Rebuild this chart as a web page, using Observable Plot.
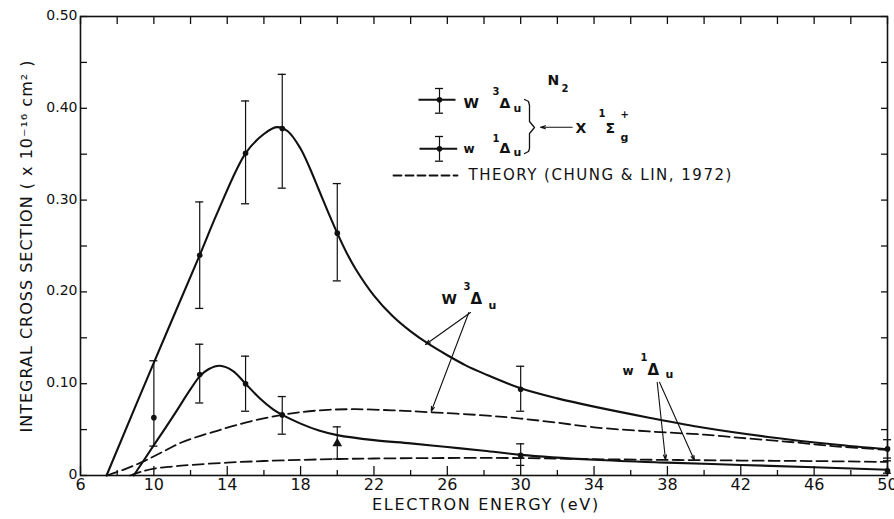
<!DOCTYPE html>
<html><head><meta charset="utf-8">
<script src="https://cdn.jsdelivr.net/npm/d3@7"></script>
<script src="https://cdn.jsdelivr.net/npm/@observablehq/plot@0.6"></script>
<style>
html,body{margin:0;padding:0;background:#fff;}
#chart svg{display:block;}
</style></head><body><div id="chart"></div>
<script>
// ---------- measured data: W 3Δu (triplet) ----------
const energyTriplet = [10, 12.5, 15, 17, 20, 30, 50];
const sigmaTriplet  = [0.063, 0.240, 0.351, 0.378, 0.264, 0.094, 0.029];
const loTriplet     = [0.032, 0.182, 0.296, 0.313, 0.212, 0.070, 0.019];
const hiTriplet     = [0.125, 0.298, 0.408, 0.437, 0.318, 0.119, 0.039];

// ---------- measured data: w 1Δu (singlet) ----------
const energySinglet = [12.5, 15, 17, 20, 30, 50];
const sigmaSinglet  = [0.110, 0.100, 0.066, 0.035, 0.022, 0.005];
const loSinglet     = [0.079, 0.070, 0.045, 0.018, 0.011, 0.0025];
const hiSinglet     = [0.143, 0.130, 0.086, 0.053, 0.0345, 0.016];
const triangleEnergy = 20; // point drawn as a triangle

// ---------- hand-drawn fitted curves ----------
const fitTripletE = [7.42, 10, 12.5, 13.5, 15, 16, 16.7, 17.3, 18, 18.5, 19, 19.5, 20, 20.5, 21, 22, 23, 24, 25, 26, 27, 28, 30, 32, 34, 37, 40, 43.5, 47, 50];
const fitTripletS = [0, 0.123, 0.240, 0.288, 0.351, 0.372, 0.3795, 0.375, 0.356, 0.335, 0.311, 0.287, 0.264, 0.243, 0.225, 0.196, 0.174, 0.157, 0.143, 0.131, 0.120, 0.111, 0.095, 0.084, 0.075, 0.063, 0.052, 0.042, 0.034, 0.0285];
const fitSingletE = [8.9, 10, 11, 12, 12.5, 13, 13.6, 14.3, 15, 15.8, 16.5, 17, 18, 19, 20, 22, 24, 26, 28, 30, 34, 38, 42, 46, 50];
const fitSingletS = [0, 0.033, 0.063, 0.094, 0.108, 0.116, 0.1195, 0.114, 0.100, 0.0835, 0.072, 0.066, 0.0565, 0.049, 0.044, 0.0385, 0.035, 0.031, 0.027, 0.0225, 0.0172, 0.014, 0.0115, 0.009, 0.0062];

// ---------- theory (Chung & Lin, 1972) ----------
const theoryTripletE = [7.45, 8.5, 9.5, 10.5, 11.5, 12.5, 13.5, 14.5, 15.8, 17, 18, 19.5, 21, 23, 25, 28, 30, 32, 34, 37, 40, 42, 45, 47, 50];
const theoryTripletS = [0, 0.0075, 0.016, 0.026, 0.036, 0.043, 0.049, 0.055, 0.0615, 0.066, 0.069, 0.0715, 0.0722, 0.071, 0.069, 0.0655, 0.062, 0.0575, 0.0525, 0.048, 0.0445, 0.041, 0.036, 0.032, 0.028];
const theorySingletE = [8.7, 9.3, 10, 11, 12, 14, 16, 18, 20, 22, 25, 30, 34, 38, 42, 46, 50];
const theorySingletS = [0, 0.004, 0.0075, 0.0098, 0.0115, 0.014, 0.0158, 0.017, 0.018, 0.0185, 0.019, 0.019, 0.0178, 0.017, 0.0163, 0.0157, 0.0148];

// ---------- axis ticks ----------
const xMajor = [6, 10, 14, 18, 22, 26, 30, 34, 38, 42, 46, 50];
const xMinor = [8, 12, 16, 20, 24, 28, 32, 36, 40, 44, 48];
const yMajor = [0, 0.10, 0.20, 0.30, 0.40, 0.50];
const yMinor = [0.05, 0.15, 0.25, 0.35, 0.45];

const xTitle = "ELECTRON ENERGY (eV)";
const yTitle = "INTEGRAL CROSS SECTION ( x 10\u207B\u00B9\u2076 cm\u00B2 )";
const theoryLabel = "THEORY (CHUNG & LIN, 1972)";

// ---------- build tables ----------
const triplet = energyTriplet.map((x, i) => ({x, y: sigmaTriplet[i], lo: loTriplet[i], hi: hiTriplet[i]}));
const singlet = energySinglet.map((x, i) => ({x, y: sigmaSinglet[i], lo: loSinglet[i], hi: hiSinglet[i]}));
const fitT = fitTripletE.map((x, i) => ({x, y: fitTripletS[i]}));
const fitS = fitSingletE.map((x, i) => ({x, y: fitSingletS[i]}));
const thT = theoryTripletE.map((x, i) => ({x, y: theoryTripletS[i]}));
const thS = theorySingletE.map((x, i) => ({x, y: theorySingletS[i]}));
const bars = triplet.concat(singlet);

// layout helpers for annotations (frame: x 80..887 px, y 16..475 px)
const W = 894, H = 519, ML = 80, MR = 7, MT = 16, MB = 44;
const px2x = px => 6 + (px - ML) * 44 / (W - ML - MR);
const py2y = py => (H - MB - py) * 0.5 / (H - MB - MT);
const pt = (px, py) => ({x: px2x(px), y: py2y(py)});
const seg = (a, b, c, d) => ({x1: px2x(a), y1: py2y(b), x2: px2x(c), y2: py2y(d)});

const capHalf = 0.22;
const font = "DejaVu Sans";
const ink = "#111";

const annText = [
  [547, 80, "N", 14], [561, 88, "2", 10],
  [463, 103, "W", 14], [492, 91, "3", 10], [499, 103, "\u0394", 14], [513, 108, "u", 11],
  [463, 149, "w", 12], [492, 138, "1", 10], [499, 148, "\u0394", 14], [513, 152, "u", 11],
  [575, 128, "X", 14], [598, 113, "1", 10], [605, 128, "\u03A3", 14], [620, 114, "+", 10], [620, 137, "g", 11],
  [441, 299, "W", 14], [463, 286, "3", 10], [470, 299, "\u0394", 15], [488, 305, "u", 11],
  [622, 371, "w", 12], [640, 357, "1", 10], [647, 370, "\u0394", 15], [665, 374, "u", 11]
].map(([px, py, t, fs]) => ({...pt(px, py), t, fs}));

const braceLine = [[524,99],[528,101],[529,105],[529,121],[534,127],[529,133],[529,148],[528,151],[524,153]].map(([a,b]) => pt(a,b));

const arrows = [
  seg(470, 312, 425, 344), seg(468.3, 312, 430.7, 411),
  seg(656.7, 381.7, 665, 459.3), seg(659, 381.7, 694, 460),
  seg(571.7, 126.7, 540, 126.7)
];

const legendLines = [seg(418, 99.3, 455, 99.3), seg(419, 148.3, 456.7, 148.3)];
const legendBars = [pt(439, 99.3), pt(439, 148.3)].map((p, i) => ({...p, lo: py2y(i ? 160.7 : 112.7), hi: py2y(i ? 136 : 88)}));
const legendDash = [pt(393, 175), pt(457, 175)];

const chart = Plot.plot({
  width: W, height: H,
  marginLeft: ML, marginRight: MR, marginTop: MT, marginBottom: MB,
  style: {fontFamily: font, color: ink, background: "#fff"},
  x: {domain: [6, 50]},
  y: {domain: [0, 0.5]},
  marks: [
    // ticks inside the frame
    Plot.axisX(xMajor, {anchor: "bottom", tickSize: 9, dy: -9, fill: "none", label: null, strokeWidth: 1.3}),
    Plot.axisX(xMinor, {anchor: "bottom", tickSize: 5, dy: -5, fill: "none", label: null, strokeWidth: 1.3}),
    Plot.axisX(xMajor.concat(xMinor), {anchor: "top", tickSize: 7, dy: 7, fill: "none", label: null, strokeWidth: 1.3}),
    Plot.axisY(yMajor.concat(yMinor), {anchor: "left", tickSize: 7, dx: 7, fill: "none", label: null, strokeWidth: 1.3}),
    Plot.axisY(yMajor.concat(yMinor), {anchor: "right", tickSize: 7, dx: -7, fill: "none", label: null, strokeWidth: 1.3}),
    // tick labels
    Plot.axisX(xMajor, {anchor: "bottom", tickSize: 0, tickPadding: 3, fontSize: 16, label: null, tickFormat: d => String(d)}),
    Plot.axisY(yMajor, {anchor: "left", tickSize: 0, tickPadding: 3, dy: -1, fontSize: 14, label: null, tickFormat: d => d === 0 ? "0" : d.toFixed(2)}),
    Plot.frame({stroke: ink, strokeWidth: 1.6}),
    // axis titles
    Plot.text([xTitle], {frameAnchor: "bottom", dy: 34, dx: 2, text: d => d, textAnchor: "middle", fontSize: 16}),
    Plot.text([yTitle], {frameAnchor: "left", dx: -54, rotate: -90, text: d => d, textAnchor: "middle", fontSize: 16}),
    // theory curves
    Plot.line(thT, {x: "x", y: "y", curve: "catmull-rom", stroke: ink, strokeWidth: 1.8, strokeDasharray: "11,5"}),
    Plot.line(thS, {x: "x", y: "y", curve: "catmull-rom", stroke: ink, strokeWidth: 1.8, strokeDasharray: "11,5"}),
    // fitted curves
    Plot.line(fitT, {x: "x", y: "y", curve: "catmull-rom", stroke: ink, strokeWidth: 2.1}),
    Plot.line(fitS, {x: "x", y: "y", curve: "catmull-rom", stroke: ink, strokeWidth: 2.1}),
    // error bars
    Plot.ruleX(bars, {x: "x", y1: "lo", y2: "hi", stroke: ink, strokeWidth: 1.2}),
    Plot.ruleY(bars, {y: "hi", x1: d => d.x - capHalf, x2: d => d.x + capHalf, stroke: ink, strokeWidth: 1.3}),
    Plot.ruleY(bars, {y: "lo", x1: d => d.x - capHalf, x2: d => d.x + capHalf, stroke: ink, strokeWidth: 1.3}),
    // points
    Plot.dot(triplet, {x: "x", y: "y", r: 2.8, fill: ink, stroke: "none"}),
    Plot.dot(singlet.filter(d => d.x !== triangleEnergy), {x: "x", y: "y", r: 2.8, fill: ink, stroke: "none"}),
    Plot.dot(singlet.filter(d => d.x === triangleEnergy), {x: "x", y: "y", r: 3.6, symbol: "triangle", fill: ink, stroke: "none"}),
    // legend glyphs
    Plot.link(legendLines, {x1: "x1", y1: "y1", x2: "x2", y2: "y2", stroke: ink, strokeWidth: 2}),
    Plot.ruleX(legendBars, {x: "x", y1: "lo", y2: "hi", stroke: ink, strokeWidth: 1.2}),
    Plot.ruleY(legendBars, {y: "hi", x1: d => d.x - capHalf, x2: d => d.x + capHalf, stroke: ink, strokeWidth: 1.3}),
    Plot.ruleY(legendBars, {y: "lo", x1: d => d.x - capHalf, x2: d => d.x + capHalf, stroke: ink, strokeWidth: 1.3}),
    Plot.dot(legendBars, {x: "x", y: "y", r: 2.8, fill: ink, stroke: "none"}),
    Plot.line(legendDash, {x: "x", y: "y", stroke: ink, strokeWidth: 1.8, strokeDasharray: "8,4"}),
    Plot.text([theoryLabel], {x: px2x(468), y: py2y(175), text: d => d, textAnchor: "start", fontSize: 15}),
    Plot.line(braceLine, {x: "x", y: "y", stroke: ink, strokeWidth: 1.3}),
    // annotation text pieces
    Plot.text(annText, {x: "x", y: "y", text: "t", fontSize: "fs", textAnchor: "start", fill: ink, fontWeight: 600}),
    // annotation arrows
    Plot.arrow(arrows, {x1: "x1", y1: "y1", x2: "x2", y2: "y2", stroke: ink, strokeWidth: 1.1, headLength: 7, headAngle: 35})
  ]
});
// widen the lettering of the titles to match the original spacing
const spacing = new Map([[xTitle, "1.7px"], [yTitle, "1px"], [theoryLabel, "1.5px"]]);
d3.select(chart).selectAll("text").each(function () {
  const s = spacing.get(this.textContent);
  if (s) this.style.letterSpacing = s;
});
document.getElementById("chart").appendChild(chart);
</script></body></html>
